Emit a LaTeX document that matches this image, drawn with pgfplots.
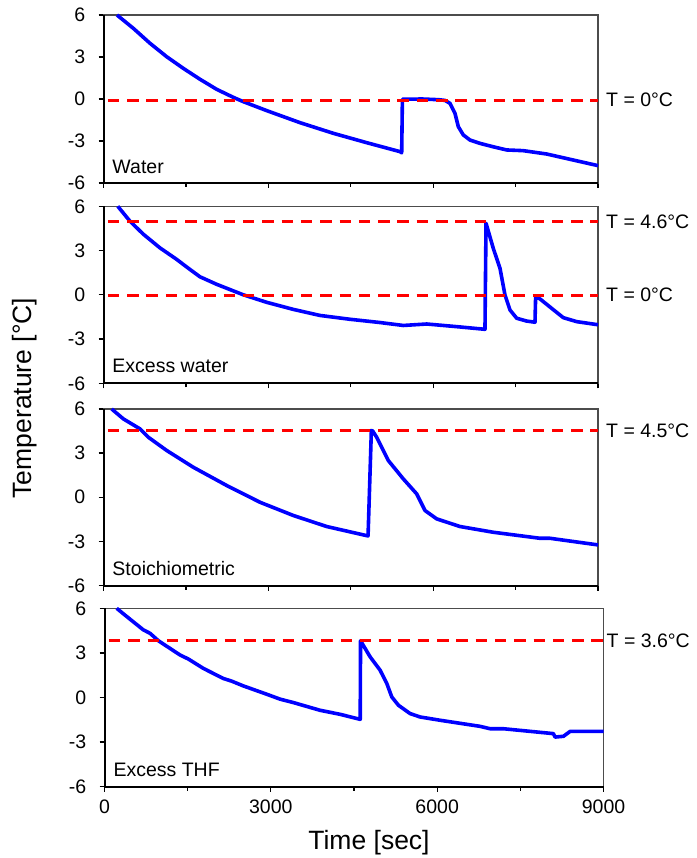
\documentclass[border=0pt]{standalone}
\usepackage{fontspec}
\setmainfont{Liberation Sans}
\usepackage{pgfplots}
\pgfplotsset{compat=1.18}

\tikzset{
 lab/.style={anchor=west, inner sep=0pt, font=\fontsize{19.5}{22}\selectfont},
 pname/.style={anchor=west, inner sep=0pt, font=\fontsize{19.5}{22}\selectfont},
}
\pgfplotsset{
 panel/.style={
  scale only axis, width=494.5pt, anchor=north west,
  xmin=0,xmax=9000,ymin=-6,ymax=6, clip=false,
  xtick={0,3000,6000,9000}, minor xtick={1500,4500,7500},
  ytick={-6,-3,0,3,6}, yticklabels={-6,-3,0,3,6},
  xticklabels={},
  tick pos=left,
  tick align=outside, major tick length=5pt, minor tick length=4pt,
  minor tick style={black, line width=1.3pt},
  major tick style={black, line width=1.3pt},
  axis line style={line width=1.3pt, black!70},
  ticklabel style={font=\fontsize{19.5}{22}\selectfont, inner sep=0pt},
  yticklabel style={anchor=east},
  yticklabel shift=13pt,
  xticklabel shift=8pt,
  after end axis/.code={\draw[line width=2pt,black] (rel axis cs:0,1) -- (rel axis cs:0,0) -- (rel axis cs:1,0);},
 },
 curve/.style={color={rgb,255:red,0;green,0;blue,255}, line width=3.6pt, line join=round, no marks},
 refl/.style={color={rgb,255:red,255;green,0;blue,0}, line width=3pt, dash pattern=on 11.5pt off 7.8pt, no marks},
}

\begin{document}
\begin{tikzpicture}
\useasboundingbox (0,0) rectangle (696pt,-858pt);

% Panel 1: Water
\begin{axis}[panel, at={(103.5pt,-15pt)}, height=168pt]
\addplot[curve] coordinates {(245,6.0)(542,5.05)(846,3.98)(1150,3.02)(1452,2.19)(1756,1.41)(2060,0.69)(2362,0.12)(2544,-0.19)(2970,-0.83)(3576,-1.69)(4182,-2.45)(4790,-3.12)(5396,-3.76)(5427,-3.84)(5440,-0.02)(5800,0.0)(6100,-0.05)(6215,-0.1)(6306,-0.31)(6397,-1.02)(6458,-1.98)(6549,-2.57)(6670,-2.93)(6852,-3.17)(7100,-3.42)(7338,-3.64)(7640,-3.69)(8066,-3.93)(9000,-4.76)};
\addplot[refl] coordinates {(80,-0.08)(9000,-0.08)};
\node[lab, xshift=8pt] at (axis cs:9000,-0.08) {T = 0°C};
\node[pname] at (axis cs:160,-4.85) {Water};
\end{axis}

% Panel 2: Excess water
\begin{axis}[panel, at={(103.5pt,-206.3pt)}, height=177pt]
\addplot[curve] coordinates {(260,6.0)(482,4.99)(724,4.11)(1028,3.18)(1332,2.40)(1544,1.80)(1756,1.22)(2060,0.71)(2544,0.0)(2970,-0.51)(3455,-0.99)(3940,-1.40)(4486,-1.66)(5032,-1.88)(5456,-2.08)(5882,-1.98)(6400,-2.15)(6943,-2.34)(6962,4.85)(7094,3.15)(7216,1.80)(7307,-0.01)(7398,-1.03)(7520,-1.59)(7700,-1.78)(7853,-1.86)(7865,-0.13)(7944,-0.28)(8157,-0.92)(8368,-1.55)(8612,-1.82)(9000,-2.03)};
\addplot[refl] coordinates {(80,4.97)(9000,4.97)};
\addplot[refl] coordinates {(80,-0.03)(9000,-0.03)};
\node[lab, xshift=8pt] at (axis cs:9000,4.97) {T = 4.6°C};
\node[lab, xshift=8pt] at (axis cs:9000,-0.03) {T = 0°C};
\node[pname] at (axis cs:160,-4.85) {Excess water};
\end{axis}

% Panel 3: Stoichiometric
\begin{axis}[panel, at={(103.5pt,-409pt)}, height=176.5pt]
\addplot[curve] coordinates {(149,6.0)(361,5.33)(664,4.65)(816,4.08)(1150,3.18)(1634,2.04)(2242,0.80)(2848,-0.34)(3455,-1.24)(4062,-1.99)(4790,-2.61)(4815,-2.63)(4875,4.54)(4900,4.50)(4972,4.08)(5183,2.50)(5456,1.25)(5700,0.23)(5851,-0.90)(6064,-1.47)(6488,-1.99)(7094,-2.38)(7944,-2.79)(8126,-2.79)(9000,-3.24)};
\addplot[refl] coordinates {(80,4.54)(9000,4.54)};
\node[lab, xshift=8pt] at (axis cs:9000,4.54) {T = 4.5°C};
\node[pname] at (axis cs:160,-4.85) {Stoichiometric};
\end{axis}

% Panel 4: Excess THF
\begin{axis}[panel, at={(104.5pt,-608.3pt)}, width=499pt, height=178.4pt,
  xticklabels={0,3000,6000,9000}]
\addplot[curve] coordinates {(220,6.0)(400,5.45)(700,4.55)(821,4.32)(971,3.82)(1362,2.86)(1512,2.59)(1782,1.96)(2143,1.28)(2294,1.10)(2504,0.78)(2926,0.22)(3166,-0.11)(3406,-0.34)(3888,-0.86)(4249,-1.13)(4612,-1.47)(4618,3.82)(4790,2.74)(4970,1.84)(5091,0.95)(5181,0.04)(5301,-0.52)(5511,-1.08)(5692,-1.31)(6052,-1.53)(6774,-1.94)(6954,-2.10)(7194,-2.10)(8096,-2.43)(8127,-2.66)(8277,-2.61)(8398,-2.28)(9000,-2.28)};
\addplot[refl] coordinates {(80,3.82)(9000,3.82)};
\node[lab, xshift=3pt] at (axis cs:9000,3.82) {T = 3.6°C};
\node[pname] at (axis cs:160,-4.85) {Excess THF};
\end{axis}

\node[rotate=90, inner sep=0pt, font=\fontsize{26.5}{30}\selectfont] at (25pt,-398pt) {Temperature [°C]};
\node[inner sep=0pt, font=\fontsize{26.5}{30}\selectfont] at (369pt,-843pt) {Time [sec]};
\end{tikzpicture}
\end{document}
